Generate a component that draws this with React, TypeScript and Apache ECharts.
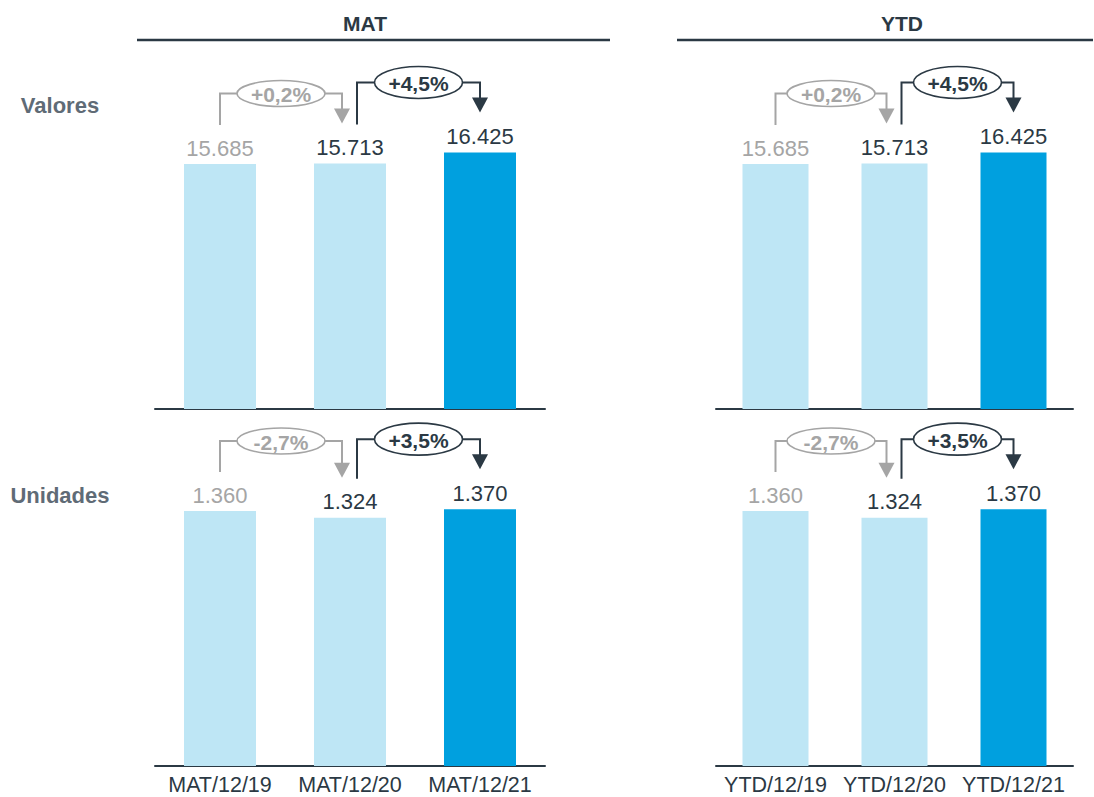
import React, { useEffect, useRef } from "react";
import * as echarts from "echarts";

const categoriesMAT = ["MAT/12/19", "MAT/12/20", "MAT/12/21"];
const categoriesYTD = ["YTD/12/19", "YTD/12/20", "YTD/12/21"];
const valoresMAT = [15685, 15713, 16425];
const valoresYTD = [15685, 15713, 16425];
const unidadesMAT = [1360, 1324, 1370];
const unidadesYTD = [1360, 1324, 1370];
const pctValores = ["+0,2%", "+4,5%"];
const pctUnidades = ["-2,7%", "+3,5%"];
const panelTitles = ["MAT", "YTD"];
const rowLabels = ["Valores", "Unidades"];

const FONT = "'Liberation Sans', Arial, Helvetica, sans-serif";
const DARK = "#2B3944";
const GRAY = "#A5A5A5";
const ROWC = "#5F6B76";
const LIGHT_BAR = "#BEE6F5";
const DARK_BAR = "#00A0DF";

const fmtNum = (v: number) => String(v).replace(/\B(?=(\d{3})+(?!\d))/g, ".");

type Panel = {
  cats: string[];
  vals: number[];
  pcts: string[];
  max: number;
  left: number;
  width: number;
  top: number;
  height: number;
  barWidth: number;
  showLabels: boolean;
};

const panels: Panel[] = [
  { cats: categoriesMAT, vals: valoresMAT, pcts: pctValores, max: 20000, left: 155, width: 390, top: 96.6, height: 312.4, barWidth: 72, showLabels: false },
  { cats: categoriesYTD, vals: valoresYTD, pcts: pctValores, max: 20000, left: 716, width: 357, top: 96.6, height: 312.4, barWidth: 66, showLabels: false },
  { cats: categoriesMAT, vals: unidadesMAT, pcts: pctUnidades, max: 2000, left: 155, width: 390, top: 391, height: 375, barWidth: 72, showLabels: true },
  { cats: categoriesYTD, vals: unidadesYTD, pcts: pctUnidades, max: 2000, left: 716, width: 357, top: 391, height: 375, barWidth: 66, showLabels: true },
];

export default function App() {
  const ref = useRef<HTMLDivElement>(null);
  useEffect(() => {
    document.body.style.margin = "0";
    if (!ref.current) return;
    const chart = echarts.init(ref.current, null, { renderer: "svg" });
    const option: any = {
      animation: false,
      grid: panels.map((p) => ({ left: p.left, top: p.top, width: p.width, height: p.height })),
      xAxis: panels.map((p, i) => ({
        type: "category",
        gridIndex: i,
        data: p.cats,
        axisLine: { show: true, lineStyle: { color: DARK, width: 2 } },
        axisTick: { show: false },
        axisLabel: {
          show: p.showLabels,
          interval: 0,
          hideOverlap: false,
          fontSize: 21.5,
          color: DARK,
          fontFamily: FONT,
          margin: 8,
        },
      })),
      yAxis: panels.map((p, i) => ({
        type: "value",
        gridIndex: i,
        min: 0,
        max: p.max,
        show: false,
        splitLine: { show: false },
      })),
      series: panels.map((p, i) => ({
        type: "bar",
        xAxisIndex: i,
        yAxisIndex: i,
        barWidth: p.barWidth,
        data: p.vals.map((v, j) => ({
          value: v,
          itemStyle: { color: j === 2 ? DARK_BAR : LIGHT_BAR },
          label: { color: j === 0 ? GRAY : DARK },
        })),
        label: {
          show: true,
          position: "top",
          distance: 5,
          fontSize: 22,
          fontFamily: FONT,
          formatter: (d: any) => fmtNum(d.value),
        },
      })),
    };
    chart.setOption(option);

    const graphics: any[] = [];
    const txt = (text: string, x: number, y: number, size: number, color: string, bold: boolean) => ({
      type: "text",
      z: 10,
      style: {
        text,
        x,
        y,
        fill: color,
        font: `${bold ? "bold " : ""}${size}px ${FONT}`,
        textAlign: "center",
        textVerticalAlign: "middle",
        align: "center",
        verticalAlign: "middle",
      },
    });

    // headers
    const headerDefs = [
      { cx: 365, x1: 137, x2: 610 },
      { cx: 902, x1: 677, x2: 1093 },
    ];
    headerDefs.forEach((h, i) => {
      graphics.push(txt(panelTitles[i], h.cx, 23, 21, DARK, true));
      graphics.push({
        type: "line",
        shape: { x1: h.x1, y1: 40, x2: h.x2, y2: 40 },
        style: { stroke: DARK, lineWidth: 2.5 },
      });
    });
    graphics.push(txt(rowLabels[0], 60, 105, 22, ROWC, true));
    graphics.push(txt(rowLabels[1], 60, 495, 22, ROWC, true));

    // brackets
    panels.forEach((p, gi) => {
      const pts = p.vals.map((v, j) =>
        chart.convertToPixel({ xAxisIndex: gi, yAxisIndex: gi } as any, [j, v]) as number[]
      );
      const defs = [
        { a: 0, b: 1, color: GRAY, ry: 13, dxA: 0, dxB: -8 },
        { a: 1, b: 2, color: DARK, ry: 16, dxA: 7, dxB: 0 },
      ];
      defs.forEach((d, k) => {
        const xA = pts[d.a][0] + d.dxA;
        const xB = pts[d.b][0] + d.dxB;
        const yBottom = pts[d.a][1] - 39;
        const yH = Math.min(pts[d.a][1], pts[d.b][1]) - 70;
        const yTip = pts[d.b][1] - 40;
        const cx = (xA + xB) / 2;
        graphics.push({
          type: "polyline",
          z: 5,
          shape: { points: [[xA, yBottom], [xA, yH], [xB, yH], [xB, yTip - 12]] },
          style: { stroke: d.color, lineWidth: 2, fill: "none" },
        });
        graphics.push({
          type: "polygon",
          z: 5,
          shape: { points: [[xB - 8, yTip - 15], [xB + 8, yTip - 15], [xB, yTip]] },
          style: { fill: d.color },
        });
        graphics.push({
          type: "ellipse",
          z: 6,
          shape: { cx, cy: yH, rx: 44, ry: d.ry },
          style: { fill: "#FFFFFF", stroke: d.color, lineWidth: 1.6 },
        });
        graphics.push(txt(p.pcts[k], cx, yH + 1, 21, d.color, true));
      });
    });

    chart.setOption({ graphic: graphics });
    return () => chart.dispose();
  }, []);
  return <div ref={ref} style={{ width: 1094, height: 797 }} />;
}
